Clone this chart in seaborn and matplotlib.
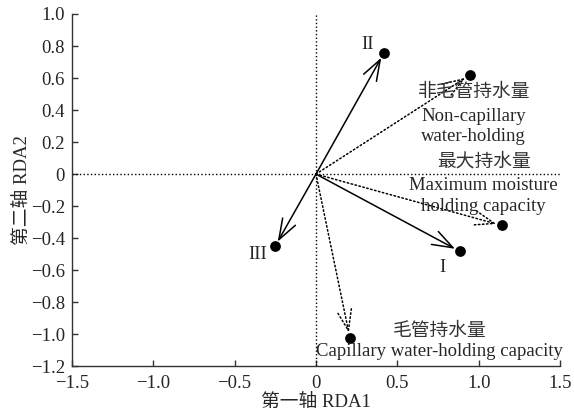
import matplotlib
matplotlib.use('Agg')
import matplotlib.pyplot as plt
import seaborn as sns
import pandas as pd

# sample scores (solid arrows)
site_names = ['I', 'II', 'III']
site_x = [0.885, 0.418, -0.252]
site_y = [-0.483, 0.757, -0.452]

# environmental variables (dotted arrows)
env_names = ['非毛管持水量', '最大持水量', '毛管持水量']
env_x = [0.947, 1.143, 0.209]
env_y = [0.620, -0.321, -1.025]

x_ticks = [-1.5, -1.0, -0.5, 0, 0.5, 1.0, 1.5]
y_ticks = [-1.2, -1.0, -0.8, -0.6, -0.4, -0.2, 0, 0.2, 0.4, 0.6, 0.8, 1.0]

sns.set_style('ticks')
plt.rcParams['font.family'] = ['Liberation Serif', 'Noto Sans CJK SC']
plt.rcParams['axes.unicode_minus'] = True
plt.rcParams['xtick.direction'] = 'in'
plt.rcParams['ytick.direction'] = 'in'

fig = plt.figure(figsize=(5.74, 4.2), dpi=100)
ax = fig.add_axes([0.1254, 0.128, 0.8502, 0.8387])

pts = pd.DataFrame({'x': site_x + env_x, 'y': site_y + env_y})
sns.scatterplot(data=pts, x='x', y='y', color='black', s=60, edgecolor='black',
                linewidth=0, zorder=5, ax=ax)

ax.axhline(0, color='black', linestyle=':', linewidth=1)
ax.axvline(0, color='black', linestyle=':', linewidth=1)

head = '->,head_length=0.62,head_width=0.22'
for x, y in zip(site_x, site_y):
    ax.annotate('', xy=(x, y), xytext=(0, 0),
                arrowprops=dict(arrowstyle=head, color='black', lw=1.1,
                                mutation_scale=24, shrinkA=0, shrinkB=4))
for x, y in zip(env_x, env_y):
    ax.annotate('', xy=(x, y), xytext=(0, 0),
                arrowprops=dict(arrowstyle=head, color='black', lw=1.1, linestyle=':',
                                mutation_scale=24, shrinkA=0, shrinkB=4))

fs = 13.5
ax.text(0.32, 0.81, 'II', ha='center', va='center', fontsize=fs)
ax.text(0.78, -0.585, 'I', ha='center', va='center', fontsize=fs)
ax.text(-0.36, -0.505, 'III', ha='center', va='center', fontsize=fs)

ax.text(0.97, 0.51, env_names[0], ha='center', va='center', fontsize=fs, color='#333333')
ax.text(0.97, 0.36, 'Non-capillary', ha='center', va='center', fontsize=fs)
ax.text(0.97, 0.233, 'water-holding', ha='center', va='center', fontsize=fs)
ax.text(1.03, 0.08, env_names[1], ha='center', va='center', fontsize=fs, color='#333333')
ax.text(1.03, -0.07, 'Maximum moisture', ha='center', va='center', fontsize=fs)
ax.text(1.03, -0.2, 'holding capacity', ha='center', va='center', fontsize=fs)
ax.text(0.76, -0.98, env_names[2], ha='center', va='center', fontsize=fs, color='#333333')
ax.text(0.76, -1.11, 'Capillary water-holding capacity', ha='center', va='center', fontsize=fs)

ax.set_xlim(-1.5, 1.5)
ax.set_ylim(-1.2, 1.0)
ax.set_xticks(x_ticks)
ax.set_yticks(y_ticks)
ax.set_xticklabels(['0' if v == 0 else f'{v:.1f}'.replace('-', '\u2212') for v in x_ticks])
ax.set_yticklabels(['0' if v == 0 else f'{v:.1f}'.replace('-', '\u2212') for v in y_ticks])
ax.tick_params(labelsize=fs, length=4, width=1, color='#333333')
ax.tick_params(axis='x', pad=6)
ax.tick_params(axis='y', pad=5)
ax.set_xlabel('第一轴 RDA1', fontsize=fs, labelpad=2)
ax.set_ylabel('第二轴 RDA2', fontsize=fs, labelpad=0)
sns.despine(ax=ax)
for s in ['left', 'bottom']:
    ax.spines[s].set_color('#333333')
    ax.spines[s].set_linewidth(1)

fig.savefig('out.png', dpi=100)
